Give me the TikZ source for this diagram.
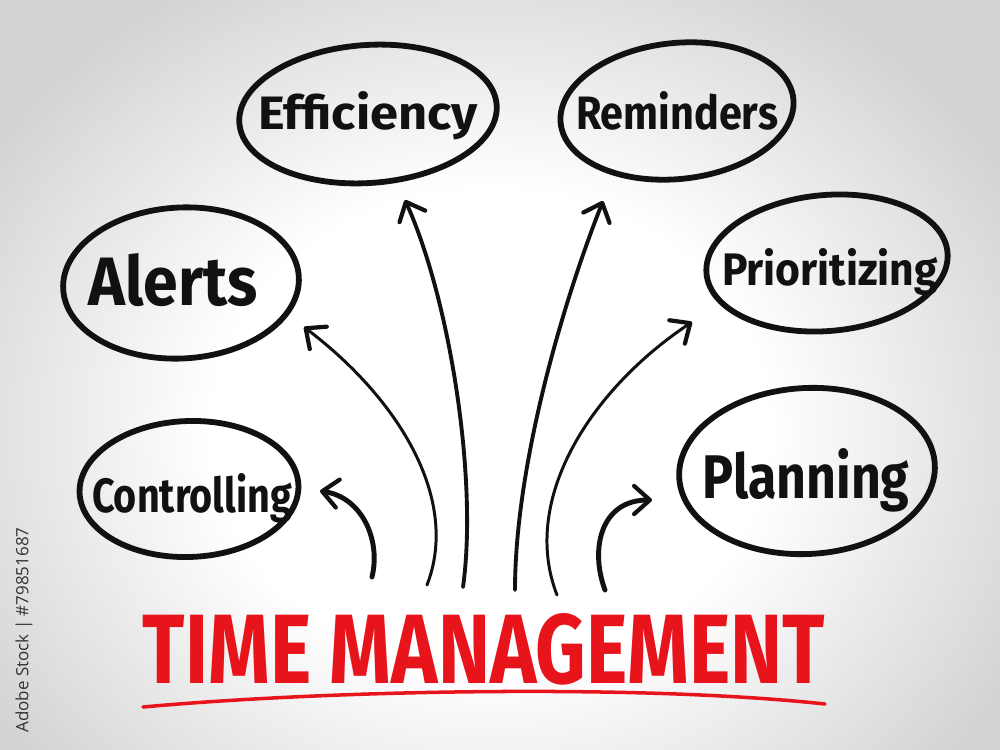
\documentclass[tikz,border=0pt]{standalone}
\usepackage{fontspec}
\setmainfont{Fira Sans}
\newfontfamily\stockfont{Open Sans}
\usetikzlibrary{shapes.geometric,arrows.meta}
\definecolor{ink}{HTML}{111111}
\definecolor{tmred}{HTML}{E8141C}
\definecolor{bgedge}{HTML}{D2D2D2}
\definecolor{stockgray}{HTML}{333333}
\pgfdeclareradialshading{bgshade}{\pgfpoint{0bp}{0bp}}{color(0bp)=(white); color(12bp)=(white); color(26bp)=(bgedge); color(50bp)=(bgedge)}
\begin{document}
\begin{tikzpicture}[x=0.02cm,y=-0.02cm,
  bubble/.style={draw=ink, line width=3.3pt, ellipse, inner sep=0pt},
  word/.style={text=ink, anchor=base, inner sep=0pt},
  link/.style={draw=ink, line cap=round, -{Straight Barb[length=9pt,width=16pt,line width=2.4pt,round]}},
  thin/.style={line width=1.7pt},
  mid/.style={line width=2.2pt},
  bold/.style={line width=2.8pt},
]
\useasboundingbox (0,0) rectangle (1000,750);
\begin{scope}
  \clip (0,0) rectangle (1000,750);
  \shade[shading=bgshade] (-90,-70) rectangle (1070,930);
\end{scope}

% bubbles
\node[bubble, minimum width=5.16cm, minimum height=2.76cm, rotate=4] (effB) at (368,114) {};
\node[bubble, minimum width=4.68cm, minimum height=2.72cm, rotate=6] (remB) at (677,111) {};
\node[bubble, minimum width=4.72cm, minimum height=3.02cm, rotate=3] (aleB) at (181,283) {};
\node[bubble, minimum width=4.84cm, minimum height=2.72cm, rotate=5] (priB) at (827,263) {};
\node[bubble, minimum width=4.38cm, minimum height=2.72cm, rotate=2] (conB) at (189,489) {};
\node[bubble, minimum width=5.12cm, minimum height=3.32cm, rotate=3] (plaB) at (807,471) {};

% words
\node[word] (eff) at (368,130) {\resizebox{4.4cm}{0.76cm}{\bfseries Efficiency}};
\node[word] (rem) at (677,130) {\resizebox{4.04cm}{0.76cm}{\bfseries Reminders}};
\node[word] (ale) at (173,305) {\resizebox{3.38cm}{1.04cm}{\bfseries Alerts}};
\node[word] (pri) at (830,285) {\resizebox{4.32cm}{0.74cm}{\bfseries Prioritizing}};
\node[word] (con) at (192,512) {\resizebox{4.0cm}{0.78cm}{\bfseries Controlling}};
\node[word] (pla) at (806,498) {\resizebox{4.14cm}{1.0cm}{\bfseries Planning}};

% title
\node[word, text=tmred] (title) at (484,683) {\resizebox{13.64cm}{1.4cm}{\bfseries TIME MANAGEMENT}};
\coordinate (ulA) at (143,707);
\coordinate (ulB) at (825,704);
\draw[tmred, line width=2pt, line cap=round] (ulA) .. controls (330,690) and (640,684) .. (ulB);

% arrow end points
\coordinate (c0) at (372,577); \coordinate (c1) at (320,491);
\coordinate (a0) at (427,585); \coordinate (a1) at (304,327);
\coordinate (e0) at (463,587); \coordinate (e1) at (405,200);
\coordinate (r0) at (515,590); \coordinate (r1) at (603,201);
\coordinate (p0) at (557,595); \coordinate (p1) at (692,322);
\coordinate (l0) at (605,590); \coordinate (l1) at (652,500);

\draw[link, bold] (c0) .. controls (381,540) and (362,497) .. (c1);
\draw[link, thin] (a0) .. controls (460,500) and (400,400) .. (a1);
\draw[link, mid]  (e0) .. controls (478,480) and (450,300) .. (e1);
\draw[link, mid]  (r0) .. controls (515,470) and (560,310) .. (r1);
\draw[link, thin] (p0) .. controls (520,500) and (590,390) .. (p1);
\draw[link, bold] (l0) .. controls (590,550) and (600,500) .. (l1);

% stock label
\node[rotate=90, text=stockgray, inner sep=0pt] (stock) at (24,630) {\resizebox{4.1cm}{!}{\stockfont Adobe Stock | \#79851687}};
\end{tikzpicture}
\end{document}
